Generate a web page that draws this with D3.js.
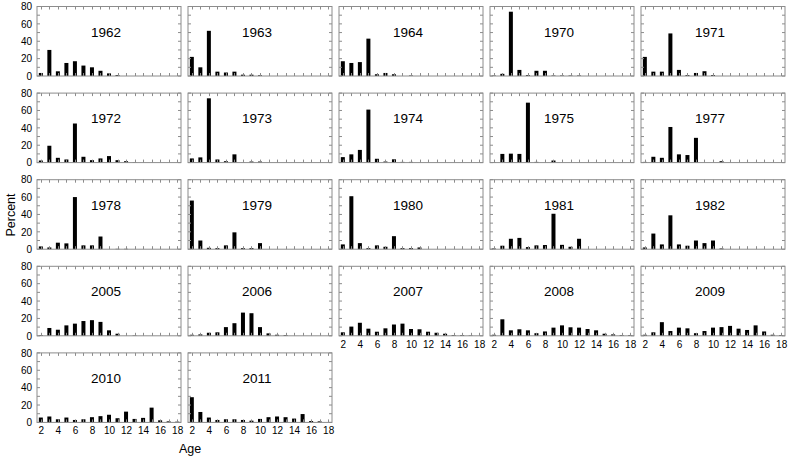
<!DOCTYPE html>
<html>
<head>
<meta charset="utf-8">
<script src="https://cdn.jsdelivr.net/npm/d3@7"></script>
<style>
  body { margin: 0; background: #fff; }
  svg { display: block; font-family: "Liberation Sans", Arial, sans-serif; }
</style>
</head>
<body>
<svg></svg>
<script>
var width = 788;
var height = 461;

// ages on the x axis
var ages = [2, 3, 4, 5, 6, 7, 8, 9, 10, 11, 12, 13, 14, 15, 16, 17, 18];
var xTicks = [2, 4, 6, 8, 10, 12, 14, 16, 18];
var yTicks = [0, 20, 40, 60, 80];

var years = ['1962', '1963', '1964', '1970', '1971',
             '1972', '1973', '1974', '1975', '1977',
             '1978', '1979', '1980', '1981', '1982',
             '2005', '2006', '2007', '2008', '2009',
             '2010', '2011'];

// percent at age 2..18
var p1962 = [3.5, 30, 5.4, 15, 17, 12, 10, 6, 3, 1, 0, 0, 0, 0, 0, 0, 0];
var p1963 = [22, 10, 52, 5, 4, 5, 1.5, 1.5, 0.8, 0, 0, 0, 0, 0, 0, 0, 0];
var p1964 = [17, 15, 16, 43, 2, 3.5, 2, 0, 0.5, 0, 0, 0, 0, 0, 0, 0, 0];
var p1970 = [0.5, 2.5, 74, 7, 1, 6, 6, 0.5, 0.5, 0.5, 0.5, 0, 0, 0, 0, 0, 0];
var p1971 = [22, 5, 5, 49, 7, 1, 3.5, 5.5, 1, 0, 0, 0, 0, 0, 0, 0, 0];
var p1972 = [2.4, 19.4, 5.5, 3.6, 45, 6.7, 2.8, 4.8, 7.5, 2.8, 1.6, 0.4, 0, 0, 0, 0, 0];
var p1973 = [4.8, 6, 74, 3.6, 1.6, 9.5, 0.2, 1.2, 1.2, 0, 0, 0, 0, 0, 0, 0, 0];
var p1974 = [6.3, 9.5, 14.6, 61, 4.4, 1.2, 3.8, 0.8, 0.8, 0, 0, 0, 0, 0, 0, 0, 0];
var p1975 = [0.4, 10, 10.3, 10, 69, 0.8, 0, 2.4, 0, 0, 0, 0, 0, 0, 0, 0, 0];
var p1977 = [0.8, 6.7, 5.5, 41, 9.5, 8.7, 28.5, 0, 0, 1.6, 0, 0, 0, 0, 0, 0, 0];
var p1978 = [3.2, 2, 7.5, 6.7, 60, 4.4, 4.4, 14.6, 0, 0.4, 0.4, 0, 0, 0, 0, 0, 0];
var p1979 = [56, 10, 1.6, 1.2, 4.4, 19.4, 1.2, 1.2, 7, 0, 0, 0, 0, 0, 0, 0, 0];
var p1980 = [5.5, 61, 7, 1.2, 4.4, 2.8, 15, 1.2, 1.2, 2, 0, 0, 0, 0, 0, 0, 0];
var p1981 = [0.8, 4, 12, 13, 2.4, 4.4, 4.8, 40.8, 5, 2.8, 12, 0, 0, 0, 0, 0, 0];
var p1982 = [2, 18, 5.5, 39, 5.5, 4, 10, 7, 10, 0.8, 0, 0, 0, 0, 0, 0, 0];
var p2005 = [0.8, 9, 7, 12, 14, 17, 18, 16, 6.3, 2.4, 0, 0.4, 0, 0, 0, 0, 0];
var p2006 = [1.2, 1.6, 3.5, 4, 10, 14.5, 26.7, 26, 10, 2.8, 1.2, 0.8, 0, 0, 0, 0, 0];
var p2007 = [4, 10.6, 15, 8.2, 4.7, 8.6, 13, 14, 7.8, 7.5, 4.7, 3.5, 2.4, 0.8, 0.8, 0.4, 0];
var p2008 = [1.2, 19, 6.3, 7.5, 6.3, 3, 5, 9.4, 12, 9.8, 9.4, 7.8, 6.3, 2.4, 1.6, 0.8, 0.8];
var p2009 = [1.2, 4, 15.7, 5.5, 9.4, 8.6, 3, 5.5, 9.4, 10, 11.4, 8.2, 6.7, 12, 5, 1.2, 0.8];
var p2010 = [5.6, 6.8, 3.6, 5.6, 2.8, 3.6, 6, 7.2, 8.8, 4.8, 12.4, 4, 5.2, 17, 2.4, 1.2, 0.8];
var p2011 = [29, 12, 5.6, 2.8, 3.6, 3.6, 2.8, 2, 4, 6, 6.8, 6, 4.4, 9.6, 1.6, 1.2, 0];

var series = [p1962, p1963, p1964, p1970, p1971,
              p1972, p1973, p1974, p1975, p1977,
              p1978, p1979, p1980, p1981, p1982,
              p2005, p2006, p2007, p2008, p2009,
              p2010, p2011];

var svg = d3.select('svg')
    .attr('width', width)
    .attr('height', height);

var nCols = 5;
var panelW = 144, panelH = 69.5;
var left0 = 37, colStep = 151;
var top0 = 6.5, rowStep = 86.6;
var frameColor = '#8c8c8c';

var x = d3.scaleLinear().domain([1.55, 18.45]).range([0, panelW]);
var y = d3.scaleLinear().domain([0, 80]).range([panelH, 0]);

years.forEach(function (yr, i) {
    var col = i % nCols;
    var row = Math.floor(i / nCols);
    var g = svg.append('g')
        .attr('transform', 'translate(' + (left0 + col * colStep) + ',' + (top0 + row * rowStep) + ')');

    // bars
    g.selectAll('rect.bar')
        .data(ages.map(function (a, k) { return { age: a, v: series[i][k] }; }))
        .enter()
        .append('rect')
        .attr('class', 'bar')
        .attr('x', function (d) { return x(d.age) - 2; })
        .attr('width', 4)
        .attr('y', function (d) { return y(d.v); })
        .attr('height', function (d) { return panelH - y(d.v); })
        .attr('fill', '#000');

    // inward ticks on every side
    var tk = g.append('g').attr('stroke', frameColor).attr('stroke-width', 1);
    ages.forEach(function (a) {
        var px = Math.round(x(a)) + 0.5;
        tk.append('line').attr('x1', px).attr('x2', px).attr('y1', 0).attr('y2', 3);
        tk.append('line').attr('x1', px).attr('x2', px).attr('y1', panelH).attr('y2', panelH - 3);
    });
    d3.range(0, 81, 10).forEach(function (v) {
        var py = y(v);
        tk.append('line').attr('x1', 0).attr('x2', 3).attr('y1', py).attr('y2', py);
        tk.append('line').attr('x1', panelW).attr('x2', panelW - 3).attr('y1', py).attr('y2', py);
    });

    g.append('rect')
        .attr('width', panelW)
        .attr('height', panelH)
        .attr('fill', 'none')
        .attr('stroke', frameColor)
        .attr('stroke-width', 1);

    g.append('text')
        .attr('x', panelW / 2 - 3)
        .attr('y', 30)
        .attr('text-anchor', 'middle')
        .attr('font-size', '13.5px')
        .attr('fill', '#000')
        .text(yr);

    // y labels only in first column
    if (col === 0) {
        var yAxis = g.append('g')
            .call(d3.axisLeft(y).tickValues(yTicks).tickSize(0).tickPadding(5));
        yAxis.select('.domain').remove();
        yAxis.selectAll('text').attr('font-size', '10px').attr('font-family', null).attr('fill', '#000');
    }

    // x labels only in bottom panel of each column
    if (i + nCols >= years.length) {
        var xAxis = g.append('g')
            .attr('transform', 'translate(0,' + panelH + ')')
            .call(d3.axisBottom(x).tickValues(xTicks).tickSize(0).tickPadding(5));
        xAxis.select('.domain').remove();
        xAxis.selectAll('text').attr('font-size', '10px').attr('font-family', null).attr('fill', '#000');
    }
});

svg.append('text')
    .attr('transform', 'translate(15,215) rotate(-90)')
    .attr('text-anchor', 'middle')
    .attr('font-size', '12.5px')
    .text('Percent');

svg.append('text')
    .attr('x', 190)
    .attr('y', 453)
    .attr('text-anchor', 'middle')
    .attr('font-size', '12.5px')
    .text('Age');
</script>
</body>
</html>
